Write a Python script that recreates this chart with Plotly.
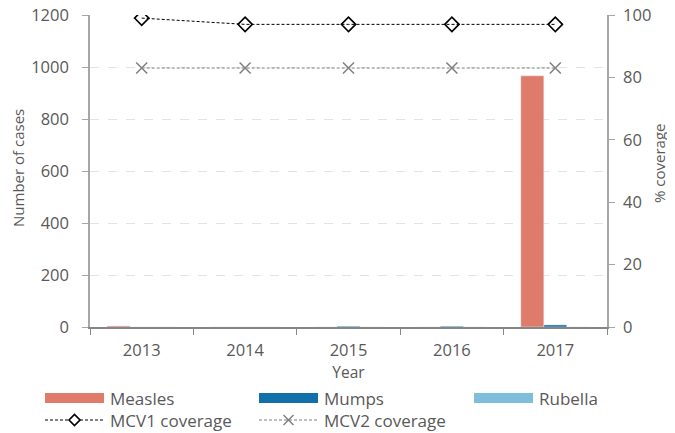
import plotly.graph_objects as go

years = ["2013", "2014", "2015", "2016", "2017"]
measles = [4, 0, 0, 0, 966]
mumps = [0, 0, 3, 3, 8]
rubella = [0, 0, 0, 0, 0]
mcv1 = [99, 97, 97, 97, 97]
mcv2 = [83, 83, 83, 83, 83]

left_ticks = [0, 200, 400, 600, 800, 1000, 1200]
right_ticks = [0, 20, 40, 60, 80, 100]

C_MEASLES = "#DE7B6B"
C_MUMPS = "#1170AA"
C_RUBELLA = "#7FBEDA"
TXT = "#595959"
FONT = "Open Sans"
TICK_SIZE = 16.5
LEG_SIZE = 17
TITLE_SIZE = 15

# page body adds an 8px offset; figure is sized so the visible frame matches 675x433
OFF = 8
W, H = 675 - OFF, 433 - OFF
L, R, T, B = 90 - OFF, 68, 15 - OFF, 106
PW, PH = W - L - R, H - T - B


def fx(p):
    return (p - OFF - L) / PW


def fy(p):
    return (H - B - (p - OFF)) / PH


fig = go.Figure()
fig.add_trace(go.Bar(x=years, y=measles, name="Measles", marker_color=C_MEASLES))
fig.add_trace(go.Bar(x=years, y=mumps, name="Mumps", marker_color=C_MUMPS))
fig.add_trace(go.Bar(x=years, y=rubella, name="Rubella", marker_color=C_RUBELLA))
fig.add_trace(go.Scatter(x=years, y=mcv1, name="MCV1 coverage", yaxis="y2", mode="lines+markers",
                         line=dict(color="#000000", width=1, dash="3px,2px"),
                         marker=dict(symbol="diamond-open", size=11, color="#000000",
                                     line=dict(width=1.6, color="#000000"))))
fig.add_trace(go.Scatter(x=years, y=mcv2, name="MCV2 coverage", yaxis="y2", mode="lines+markers",
                         line=dict(color="#7F7F7F", width=1, dash="3px,2px"),
                         marker=dict(symbol="x-thin-open", size=11, color="#7F7F7F",
                                     line=dict(width=1.5, color="#7F7F7F"))))

shapes = []
annotations = []
# custom legend
rows = [(398, [("bar", "Measles", C_MEASLES, 45), ("bar", "Mumps", C_MUMPS, 259), ("bar", "Rubella", C_RUBELLA, 474)]),
        (420, [("l1", "MCV1 coverage", "#000000", 45), ("l2", "MCV2 coverage", "#7F7F7F", 259)])]
for yc, items in rows:
    for kind, name, col, x0 in items:
        x1 = x0 + 59
        if kind == "bar":
            shapes.append(dict(type="rect", xref="paper", yref="paper", x0=fx(x0), x1=fx(x1),
                               y0=fy(yc + 5), y1=fy(yc - 5), fillcolor=col, line=dict(width=0)))
        else:
            shapes.append(dict(type="line", xref="paper", yref="paper", x0=fx(x0), x1=fx(x1),
                               y0=fy(yc), y1=fy(yc), line=dict(color=col, width=1, dash="3px,2px")))
            xm = (x0 + x1) / 2
            if kind == "l1":
                d = 5.5
                path = "M{},{} L{},{} L{},{} L{},{} Z".format(
                    fx(xm - d), fy(yc), fx(xm), fy(yc - d), fx(xm + d), fy(yc), fx(xm), fy(yc + d))
                shapes.append(dict(type="path", xref="paper", yref="paper", path=path,
                                   fillcolor="white", line=dict(color=col, width=1.6)))
            else:
                d = 5
                shapes.append(dict(type="line", xref="paper", yref="paper", x0=fx(xm - d), x1=fx(xm + d),
                                   y0=fy(yc - d), y1=fy(yc + d), line=dict(color=col, width=1.5)))
                shapes.append(dict(type="line", xref="paper", yref="paper", x0=fx(xm - d), x1=fx(xm + d),
                                   y0=fy(yc + d), y1=fy(yc - d), line=dict(color=col, width=1.5)))
        annotations.append(dict(xref="paper", yref="paper", x=fx(x1 + 4), y=fy(yc), text=name,
                                showarrow=False, xanchor="left", yanchor="middle",
                                font=dict(family=FONT, size=LEG_SIZE, color=TXT)))

# y-axis titles as rotated annotations
annotations.append(dict(xref="paper", yref="paper", x=fx(18), y=fy(168), text="Number of cases",
                        textangle=-90, showarrow=False, xanchor="center", yanchor="middle",
                        font=dict(family=FONT, size=TITLE_SIZE, color=TXT)))
annotations.append(dict(xref="paper", yref="paper", x=fx(659), y=fy(164), text="% coverage",
                        textangle=-90, showarrow=False, xanchor="center", yanchor="middle",
                        font=dict(family=FONT, size=TITLE_SIZE, color=TXT)))

fig.update_layout(
    width=W, height=H,
    margin=dict(l=L, r=R, t=T, b=B, autoexpand=False),
    paper_bgcolor="white", plot_bgcolor="white",
    barmode="group", bargap=0.333, bargroupgap=0,
    showlegend=False,
    font=dict(family=FONT, size=TICK_SIZE, color=TXT),
    xaxis=dict(type="category", tickson="boundaries", ticks="outside", ticklen=6, tickcolor="#868686",
               showline=True, linecolor="#868686", linewidth=1.5, showgrid=False, automargin=False,
               ticklabelstandoff=7,
               title=dict(text="Year", standoff=3, font=dict(size=15.5, color=TXT)),
               tickfont=dict(size=TICK_SIZE, color=TXT)),
    yaxis=dict(range=[0, 1200], tickvals=left_ticks, ticks="outside", ticklen=6, tickcolor="#A6A6A6",
               showline=True, linecolor="#A6A6A6", linewidth=1.5, automargin=False,
               showgrid=True, gridcolor="#E3E3E3", griddash="dash", gridwidth=1,
               zeroline=False, ticklabelstandoff=10, ticklabeloverflow="allow",
               tickfont=dict(size=TICK_SIZE, color=TXT)),
    yaxis2=dict(range=[0, 100], tickvals=right_ticks, overlaying="y", side="right",
                ticks="outside", ticklen=6, tickcolor="#A6A6A6", automargin=False,
                showline=True, linecolor="#A6A6A6", linewidth=1.5, showgrid=False, zeroline=False,
                ticklabelstandoff=5, ticklabeloverflow="allow",
                tickfont=dict(size=TICK_SIZE, color=TXT)),
    shapes=shapes,
    annotations=annotations,
)

fig.write_html("out.html")
